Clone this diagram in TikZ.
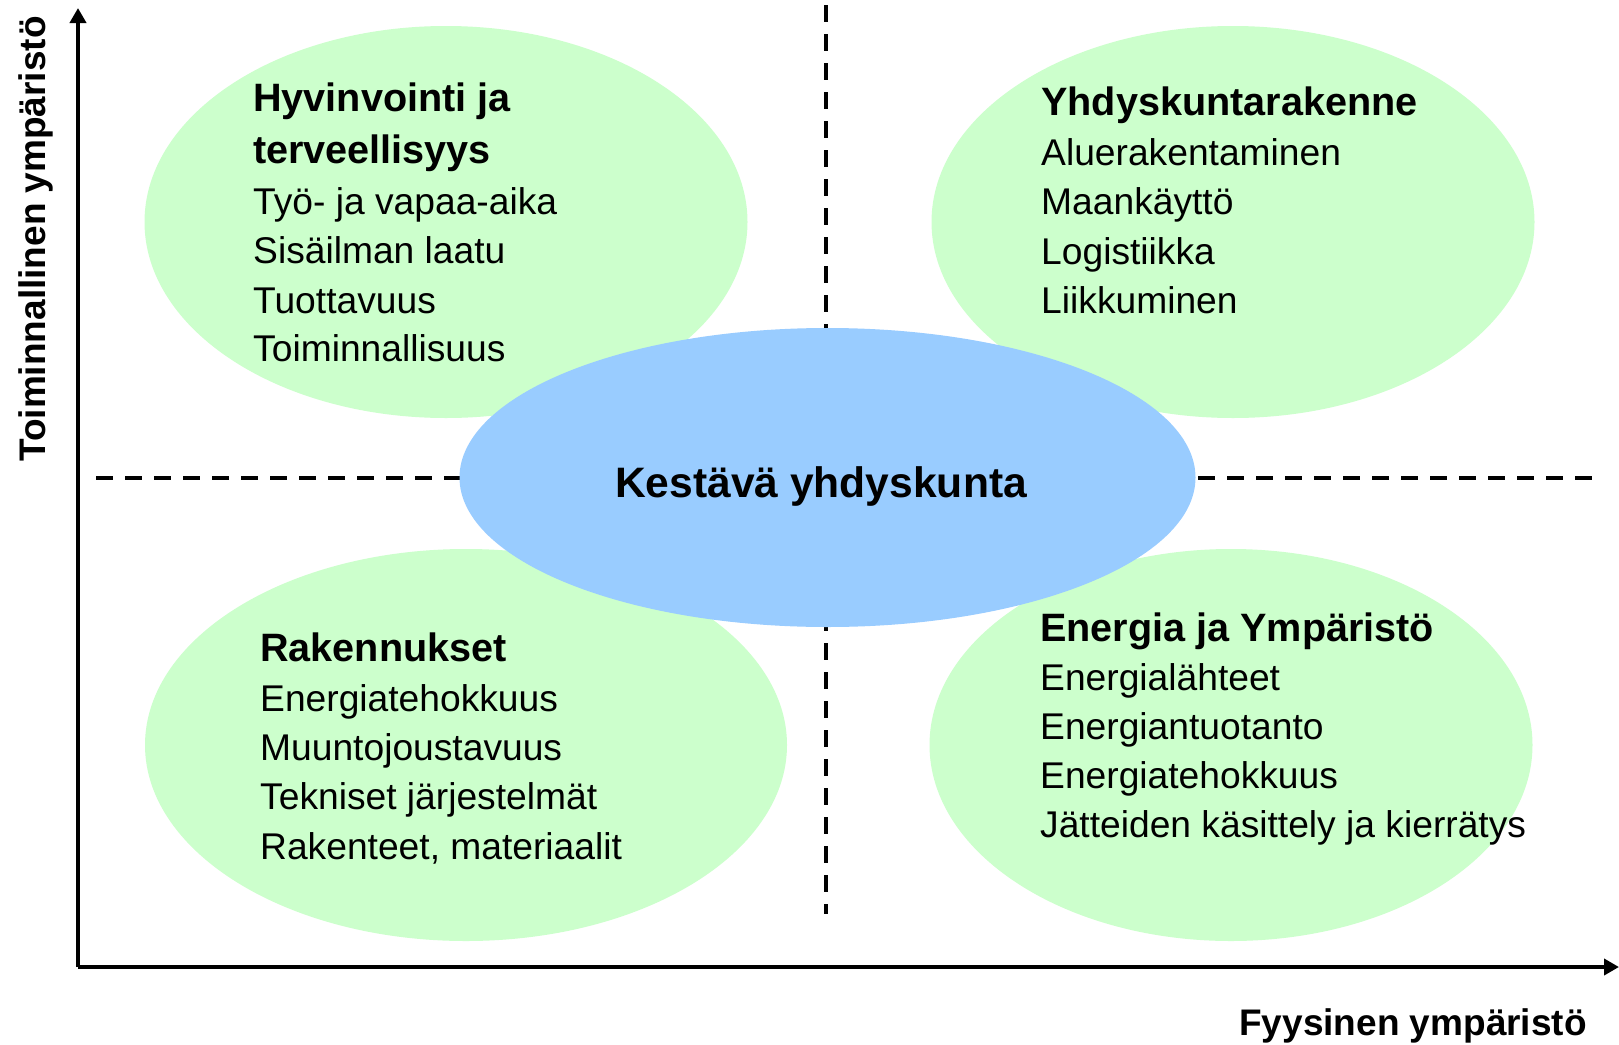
\documentclass[tikz,border=0pt]{standalone}
\usepackage{fontspec}
\setmainfont{Liberation Sans}
\usetikzlibrary{shapes.geometric,arrows.meta}
\definecolor{softgreen}{HTML}{CCFFCC}
\definecolor{softblue}{HTML}{99CCFF}
\begin{document}
\begin{tikzpicture}[x=1pt,y=-1pt,
  greenell/.style={ellipse,fill=softgreen,draw=none,inner sep=0pt},
  blueell/.style={ellipse,fill=softblue,draw=none,inner sep=0pt},
  axisline/.style={line width=4pt,line join=miter,-{Triangle[width=16pt,length=15pt]}},
  divider/.style={line width=3.3pt,dash pattern=on 17pt off 12pt},
  headtxt/.style={anchor=base west,inner sep=0pt,font=\fontsize{39.6}{46}\selectfont\bfseries},
  bodytxt/.style={anchor=base west,inner sep=0pt,font=\fontsize{37.2}{44}\selectfont},
  axislabel/.style={inner sep=0pt,font=\fontsize{37}{44}\selectfont\bfseries}
]
\useasboundingbox (0,0) rectangle (1619,1044);
\fill[white] (0,0) rectangle (1619,1044);

% dividers
\coordinate (vtop) at (826,5);
\coordinate (vbot) at (826,914);
\coordinate (hleft) at (96,478);
\coordinate (hright) at (1593,478);
\draw[divider] (vtop) -- (vbot);
\draw[divider] (hleft) -- (hright);

% ellipses
\node[greenell,minimum width=603pt,minimum height=392pt] (tl) at (446,222) {};
\node[greenell,minimum width=603pt,minimum height=392pt] (tr) at (1233,222) {};
\node[greenell,minimum width=642pt,minimum height=392pt] (bl) at (466,745) {};
\node[greenell,minimum width=603pt,minimum height=392pt] (br) at (1231,745) {};
\node[blueell,minimum width=736pt,minimum height=299pt] (center) at (827.5,477.5) {};

% axes
\coordinate (origin) at (78,967);
\coordinate (ytip) at (78,8);
\coordinate (xtip) at (1619,967);
\draw[axisline] (origin) -- (ytip);
\draw[axisline] (origin) -- (xtip);

% axis labels
\node[axislabel,anchor=base,rotate=90] (ylab) at (45,239) {Toiminnallinen ympäristö};
\node[axislabel,anchor=base east] (xlab) at (1587,1035) {Fyysinen ympäristö};

% center text
\node[anchor=base,inner sep=0pt,font=\fontsize{42.6}{50}\selectfont\bfseries] (ctext) at (821,497) {Kestävä yhdyskunta};

% top-left
\node[headtxt] (tlh1) at (253,111.5) {Hyvinvointi ja};
\node[headtxt] (tlh2) at (253,163) {terveellisyys};
\node[bodytxt] (tl1) at (253,214) {Työ- ja vapaa-aika};
\node[bodytxt] (tl2) at (253,263) {Sisäilman laatu};
\node[bodytxt] (tl3) at (253,313) {Tuottavuus};
\node[bodytxt] (tl4) at (253,361) {Toiminnallisuus};

% top-right
\node[headtxt] (trh) at (1041,115.5) {Yhdyskuntarakenne};
\node[bodytxt] (tr1) at (1041,165) {Aluerakentaminen};
\node[bodytxt] (tr2) at (1041,214.5) {Maankäyttö};
\node[bodytxt] (tr3) at (1041,264) {Logistiikka};
\node[bodytxt] (tr4) at (1041,313) {Liikkuminen};

% bottom-left
\node[headtxt] (blh) at (260,661) {Rakennukset};
\node[bodytxt] (bl1) at (260,711) {Energiatehokkuus};
\node[bodytxt] (bl2) at (260,760) {Muuntojoustavuus};
\node[bodytxt] (bl3) at (260,809.5) {Tekniset järjestelmät};
\node[bodytxt] (bl4) at (260,859) {Rakenteet, materiaalit};

% bottom-right
\node[headtxt] (brh) at (1040,641) {Energia ja Ympäristö};
\node[bodytxt] (br1) at (1040,690) {Energialähteet};
\node[bodytxt] (br2) at (1040,739) {Energiantuotanto};
\node[bodytxt] (br3) at (1040,788.5) {Energiatehokkuus};
\node[bodytxt] (br4) at (1040,837.5) {Jätteiden käsittely ja kierrätys};
\end{tikzpicture}
\end{document}
